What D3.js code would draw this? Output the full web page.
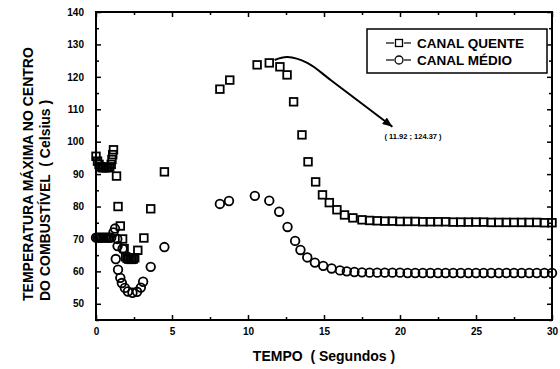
<!DOCTYPE html>
<html>
<head>
<meta charset="utf-8">
<script src="https://cdn.jsdelivr.net/npm/d3@7"></script>
<style>
  body { margin: 0; background: #fff; }
  svg { display: block; font-family: "Liberation Sans", Arial, sans-serif; font-weight: bold; }
  .axis path, .axis line { stroke: #000; }
  .axis text { font-size: 10px; font-weight: bold; fill: #000; }
</style>
</head>
<body>
<svg id="chart" width="560" height="369"></svg>
<script>
// CANAL QUENTE (squares)
const quenteT = [0, 0.1, 0.2, 0.3, 0.4, 0.5, 0.6, 0.7, 0.8, 0.9, 1.0, 1.05, 1.1, 1.15,
  1.35, 1.45, 1.6, 1.75, 1.85, 1.95, 2.05, 2.15, 2.25, 2.35, 2.45, 2.55, 2.75, 3.15, 3.6, 4.5,
  8.15, 8.8, 10.6, 11.4, 12.1, 12.57, 13.0, 13.55, 13.95, 14.45, 14.9, 15.35, 15.85, 16.35, 16.9,
  17.5, 18, 18.5, 19, 19.5, 20, 20.5, 21, 21.5, 22, 22.5, 23, 23.5, 24, 24.5, 25, 25.5, 26, 26.5,
  27, 27.5, 28, 28.5, 29, 29.5, 30];
const quenteV = [95.5, 94, 93, 92.3, 92, 92, 92, 92, 92, 92.2, 93, 94.5, 96, 97.5,
  89.4, 80, 74, 70, 67, 64.5, 64, 63.8, 63.7, 63.7, 63.8, 64.2, 66.5, 70.3, 79.3, 90.7,
  116.2, 119, 123.7, 124.3, 123.1, 120.6, 112.3, 102.1, 93.8, 87.6, 83.6, 81.2, 79, 77.4, 76.5,
  75.9, 75.7, 75.6, 75.5, 75.5, 75.4, 75.4, 75.4, 75.3, 75.3, 75.3, 75.3, 75.2, 75.2, 75.2,
  75.2, 75.2, 75.1, 75.1, 75.1, 75.1, 75.1, 75.1, 75.1, 75.0, 75.0];

// CANAL MÉDIO (circles)
const medioT = [0, 0.1, 0.2, 0.3, 0.4, 0.5, 0.6, 0.7, 0.8, 0.9, 1.0,
  1.15, 1.25, 1.4, 1.42, 1.75, 1.3, 1.45, 1.6, 1.7, 1.9, 2.1, 2.4, 2.7, 2.95, 3.1, 3.6, 4.5,
  8.15, 8.75, 10.45, 11.4, 12.05, 12.6, 13.1, 13.45, 13.9, 14.4, 14.95, 15.5, 16.05,
  16.5, 17, 17.5, 18, 18.5, 19, 19.5, 20, 20.5, 21, 21.5, 22, 22.5, 23, 23.5, 24, 24.5, 25,
  25.5, 26, 26.5, 27, 27.5, 28, 28.5, 29, 29.5, 30];
const medioV = [70.4, 70.4, 70.4, 70.4, 70.4, 70.4, 70.4, 70.4, 70.4, 70.4, 70.4,
  72.0, 73.2, 70.0, 67.8, 67.0, 63.8, 60.5, 58.0, 56.4, 54.9, 53.8, 53.4, 53.7, 55.0, 56.8, 61.4, 67.5,
  80.8, 81.7, 83.3, 81.8, 78.4, 73.7, 69.4, 66.6, 64.3, 62.7, 61.7, 60.9, 60.3,
  60.0, 59.8, 59.7, 59.6, 59.6, 59.6, 59.6, 59.6, 59.5, 59.5, 59.5, 59.5, 59.5, 59.5, 59.5,
  59.5, 59.5, 59.5, 59.5, 59.5, 59.5, 59.5, 59.5, 59.5, 59.5, 59.5, 59.5, 59.5];

// tick values
const xTicks = [0, 5, 10, 15, 20, 25, 30];
const xMinor = [2.5, 7.5, 12.5, 17.5, 22.5, 27.5];
const yTicks = [50, 60, 70, 80, 90, 100, 110, 120, 130, 140];
const yMinor = [45, 55, 65, 75, 85, 95, 105, 115, 125, 135];

// peak annotation
const peakLabel = "( 11.92 ; 124.37 )";
const arrowPts = [[11.75, 125.2], [12.6, 126.1], [13.9, 124.3], [15.5, 118.8], [19.5, 104.6]];

const svg = d3.select("#chart");
const plot = {left: 96, right: 552, top: 12, bottom: 320};

const x = d3.scaleLinear().domain([0, 30]).range([plot.left, plot.right]);
const y = d3.scaleLinear().domain([45, 140]).range([plot.bottom, plot.top]);

// frame
svg.append("rect")
  .attr("x", plot.left).attr("y", plot.top)
  .attr("width", plot.right - plot.left).attr("height", plot.bottom - plot.top)
  .attr("fill", "none").attr("stroke", "#000").attr("stroke-width", 2);

// axes - ticks pointing inward on all four sides
function noDomain(g) { g.select(".domain").remove(); }

svg.append("g").attr("class", "axis")
  .attr("transform", `translate(${plot.left},0)`)
  .call(d3.axisLeft(y).tickValues(yTicks).tickSizeInner(-5).tickSizeOuter(0).tickPadding(12))
  .call(noDomain);
svg.append("g").attr("class", "axis")
  .attr("transform", `translate(${plot.left},0)`)
  .call(d3.axisLeft(y).tickValues(yMinor).tickSizeInner(-3).tickSizeOuter(0).tickFormat(""))
  .call(noDomain);
svg.append("g").attr("class", "axis")
  .attr("transform", `translate(${plot.right},0)`)
  .call(d3.axisRight(y).tickValues(yTicks).tickSizeInner(-5).tickSizeOuter(0).tickFormat(""))
  .call(noDomain);
svg.append("g").attr("class", "axis")
  .attr("transform", `translate(${plot.right},0)`)
  .call(d3.axisRight(y).tickValues(yMinor).tickSizeInner(-3).tickSizeOuter(0).tickFormat(""))
  .call(noDomain);

svg.append("g").attr("class", "axis")
  .attr("transform", `translate(0,${plot.bottom})`)
  .call(d3.axisBottom(x).tickValues(xTicks).tickSizeInner(-5).tickSizeOuter(0).tickPadding(8))
  .call(noDomain);
svg.append("g").attr("class", "axis")
  .attr("transform", `translate(0,${plot.bottom})`)
  .call(d3.axisBottom(x).tickValues(xMinor).tickSizeInner(-3).tickSizeOuter(0).tickFormat(""))
  .call(noDomain);
svg.append("g").attr("class", "axis")
  .attr("transform", `translate(0,${plot.top})`)
  .call(d3.axisTop(x).tickValues(xTicks).tickSizeInner(-5).tickSizeOuter(0).tickFormat(""))
  .call(noDomain);
svg.append("g").attr("class", "axis")
  .attr("transform", `translate(0,${plot.top})`)
  .call(d3.axisTop(x).tickValues(xMinor).tickSizeInner(-3).tickSizeOuter(0).tickFormat(""))
  .call(noDomain);
svg.selectAll(".axis line").attr("stroke-width", 1.5);

// axis titles
const yTitle = svg.append("g").attr("transform", "translate(0,301) rotate(-90)");
yTitle.append("text").attr("x", 0).attr("y", 33)
  .attr("font-size", 14).text("TEMPERATURA MÁXIMA NO CENTRO");
yTitle.append("text").attr("x", 0).attr("y", 50)
  .attr("font-size", 14).attr("xml:space", "preserve").text("DO COMBUSTÍVEL  ( Celsius )");

svg.append("text").attr("x", 324).attr("y", 361)
  .attr("text-anchor", "middle").attr("font-size", 14)
  .attr("xml:space", "preserve").text("TEMPO  ( Segundos )");

// data markers
const quente = quenteT.map((t, i) => [t, quenteV[i]]);
const medio = medioT.map((t, i) => [t, medioV[i]]);

svg.append("g").selectAll("rect")
  .data(quente).join("rect")
  .attr("x", d => x(d[0]) - 3.8).attr("y", d => y(d[1]) - 3.8)
  .attr("width", 7.6).attr("height", 7.6)
  .attr("fill", "none").attr("stroke", "#000").attr("stroke-width", 1.8);

svg.append("g").selectAll("circle")
  .data(medio).join("circle")
  .attr("cx", d => x(d[0])).attr("cy", d => y(d[1])).attr("r", 4.3)
  .attr("fill", "none").attr("stroke", "#000").attr("stroke-width", 1.8);

// peak arrow
svg.append("defs").append("marker")
  .attr("id", "head").attr("markerUnits", "userSpaceOnUse")
  .attr("markerWidth", 10).attr("markerHeight", 8)
  .attr("refX", 10).attr("refY", 4).attr("orient", "auto")
  .append("path").attr("d", "M0,0 L10,4 L0,8 z").attr("fill", "#000");

svg.append("path")
  .attr("d", d3.line().x(d => x(d[0])).y(d => y(d[1])).curve(d3.curveCatmullRom)(arrowPts))
  .attr("fill", "none").attr("stroke", "#000").attr("stroke-width", 2)
  .attr("marker-end", "url(#head)");

svg.append("text").attr("x", 413).attr("y", 139)
  .attr("text-anchor", "middle").attr("font-size", 7.5)
  .attr("xml:space", "preserve").text(peakLabel);

// legend
const legend = svg.append("g");
legend.append("rect").attr("x", 367).attr("y", 29).attr("width", 180).attr("height", 44)
  .attr("fill", "#fff").attr("stroke", "#000").attr("stroke-width", 1.5);
const entries = [{name: "CANAL QUENTE", shape: "square"}, {name: "CANAL MÉDIO", shape: "circle"}];
entries.forEach((e, i) => {
  const cy = 43 + i * 17;
  legend.append("line").attr("x1", 386).attr("x2", 394).attr("y1", cy).attr("y2", cy)
    .attr("stroke", "#000").attr("stroke-width", 1.2);
  legend.append("line").attr("x1", 404).attr("x2", 411).attr("y1", cy).attr("y2", cy)
    .attr("stroke", "#000").attr("stroke-width", 1.2);
  if (e.shape === "square") {
    legend.append("rect").attr("x", 395.5).attr("y", cy - 3.5).attr("width", 7).attr("height", 7)
      .attr("fill", "none").attr("stroke", "#000").attr("stroke-width", 1.3);
  } else {
    legend.append("circle").attr("cx", 399).attr("cy", cy).attr("r", 4)
      .attr("fill", "none").attr("stroke", "#000").attr("stroke-width", 1.3);
  }
  legend.append("text").attr("x", 417).attr("y", cy + 5)
    .attr("font-size", 13.5).text(e.name);
});
</script>
</body>
</html>
